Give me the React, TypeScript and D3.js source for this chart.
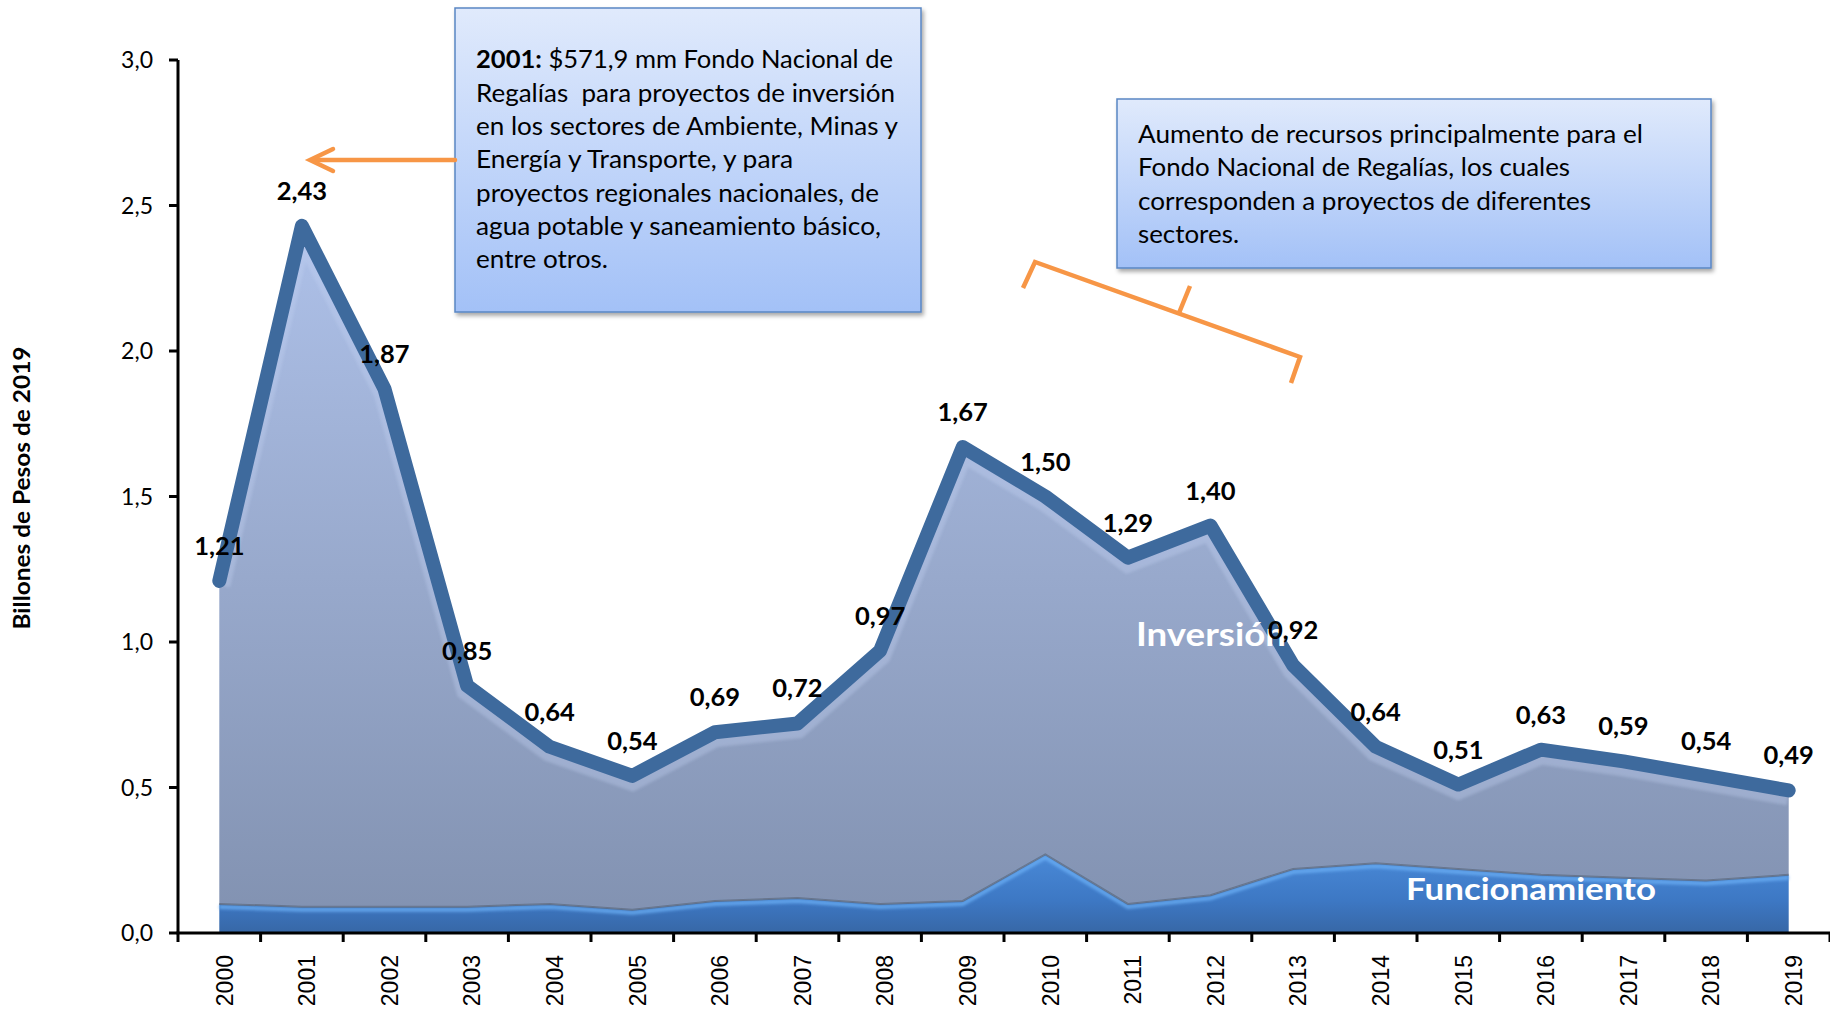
import React, { useEffect } from 'react';
import * as d3 from 'd3';

// Presupuesto 2000-2019, billones de pesos de 2019
const years = ['2000', '2001', '2002', '2003', '2004', '2005', '2006', '2007', '2008', '2009',
  '2010', '2011', '2012', '2013', '2014', '2015', '2016', '2017', '2018', '2019'];
const totalValues = [1.21, 2.43, 1.87, 0.85, 0.64, 0.54, 0.69, 0.72, 0.97, 1.67,
  1.50, 1.29, 1.40, 0.92, 0.64, 0.51, 0.63, 0.59, 0.54, 0.49];
const funcionamientoValues = [0.10, 0.09, 0.09, 0.09, 0.10, 0.08, 0.11, 0.12, 0.10, 0.11,
  0.27, 0.10, 0.13, 0.22, 0.24, 0.22, 0.20, 0.19, 0.18, 0.20];
const yTicks = [0, 0.5, 1.0, 1.5, 2.0, 2.5, 3.0];

const note2001 = [
  { bold: '2001:', text: ' $571,9 mm Fondo Nacional de', w: 417 },
  { bold: '', text: 'Regalías  para proyectos de inversión', w: 419 },
  { bold: '', text: 'en los sectores de Ambiente, Minas y', w: 422 },
  { bold: '', text: 'Energía y Transporte, y para', w: 317 },
  { bold: '', text: 'proyectos regionales nacionales, de', w: 403 },
  { bold: '', text: 'agua potable y saneamiento básico,', w: 405 },
  { bold: '', text: 'entre otros.', w: 132 },
];
const noteFNR = [
  { text: 'Aumento de recursos principalmente para el', w: 505 },
  { text: 'Fondo Nacional de Regalías, los cuales', w: 432 },
  { text: 'corresponden a proyectos de diferentes', w: 453 },
  { text: 'sectores.', w: 101 },
];

const W = 1830;
const H = 1009;
const FONT = 'Lato, "Open Sans", sans-serif';
const ORANGE = '#f79646';

export default function App() {
  useEffect(() => {
    document.body.style.margin = '0';
  }, []);

  const x = d3.scaleBand<string>().domain(years).range([178, 1830]).padding(0);
  const cx = (yr: string) => (x(yr) as number) + x.bandwidth() / 2;
  const y = d3.scaleLinear().domain([0, 3]).range([933, 60]);

  const rows = years.map((yr, i) => ({ yr, total: totalValues[i], func: funcionamientoValues[i] }));

  const inversionArea = d3.area<typeof rows[0]>()
    .x(d => cx(d.yr)).y0(d => y(d.func)).y1(d => y(d.total));
  const funcArea = d3.area<typeof rows[0]>()
    .x(d => cx(d.yr)).y0(y(0)).y1(d => y(d.func));
  const totalLine = d3.line<typeof rows[0]>().x(d => cx(d.yr)).y(d => y(d.total));
  const funcLine = d3.line<typeof rows[0]>().x(d => cx(d.yr)).y(d => y(d.func));

  const fmt2 = (v: number) => v.toFixed(2).replace('.', ',');
  const fmt1 = (v: number) => v.toFixed(1).replace('.', ',');

  const xTickPos = d3.range(years.length + 1).map(k => 178 + k * x.bandwidth());

  return (
    <svg width={W} height={H} style={{ display: 'block', background: '#fff' }}>
      <defs>
        <linearGradient id="invGrad" gradientUnits="userSpaceOnUse" x1="0" y1={y(2.45)} x2="0" y2={y(0)}>
          <stop offset="0" stopColor="#aec1e9" />
          <stop offset="0.5" stopColor="#98a9cc" />
          <stop offset="1" stopColor="#8191b0" />
        </linearGradient>
        <linearGradient id="funcGrad" gradientUnits="userSpaceOnUse" x1="0" y1={y(0.28)} x2="0" y2={y(0)}>
          <stop offset="0" stopColor="#4a8ad8" />
          <stop offset="0.6" stopColor="#3d78c4" />
          <stop offset="1" stopColor="#3767a6" />
        </linearGradient>
        <linearGradient id="boxGrad" x1="0" y1="0" x2="0" y2="1">
          <stop offset="0" stopColor="#e0eafc" />
          <stop offset="1" stopColor="#a3c1f7" />
        </linearGradient>
        <filter id="boxShadow" x="-5%" y="-5%" width="115%" height="120%">
          <feDropShadow dx="2" dy="3" stdDeviation="2" floodColor="#000" floodOpacity="0.35" />
        </filter>
        <filter id="soft" x="-5%" y="-20%" width="110%" height="140%">
          <feGaussianBlur stdDeviation="1.5" />
        </filter>
        <clipPath id="invClip">
          <path d={inversionArea(rows) || ''} />
        </clipPath>
      </defs>

      {/* stacked areas */}
      <path d={inversionArea(rows) || ''} fill="url(#invGrad)" />
      <g clipPath="url(#invClip)">
        <path d={totalLine(rows) || ''} fill="none" stroke="#c3d2f2" strokeWidth={22}
          opacity={0.35} filter="url(#soft)" transform="translate(0,4)" />
      </g>
      <path d={funcArea(rows) || ''} fill="url(#funcGrad)" />
      <path d={funcLine(rows) || ''} fill="none" stroke="#6cb0f6" strokeWidth={4}
        transform="translate(0,3)" opacity={0.8} filter="url(#soft)" />
      <path d={funcLine(rows) || ''} fill="none" stroke="#5f6776" strokeWidth={2} opacity={0.7} />

      {/* total line */}
      <path d={totalLine(rows) || ''} fill="none" stroke="#3e6a9d" strokeWidth={14}
        strokeLinejoin="round" strokeLinecap="round" />

      {/* axes */}
      <line x1={178} x2={178} y1={y(3)} y2={y(0)} stroke="#000" strokeWidth={3} />
      {yTicks.map(t => (
        <g key={t}>
          <line x1={169} x2={178} y1={y(t)} y2={y(t)} stroke="#000" strokeWidth={3} />
          <text x={153} y={y(t)} dy="0.36em" textAnchor="end" fontFamily={FONT}
            fontSize={23} fill="#000">{fmt1(t)}</text>
        </g>
      ))}
      <line x1={176.5} x2={W} y1={y(0)} y2={y(0)} stroke="#000" strokeWidth={3} />
      {xTickPos.map((p, k) => (
        <line key={k} x1={p} x2={p} y1={y(0)} y2={y(0) + 9} stroke="#000" strokeWidth={3} />
      ))}
      {years.map(yr => (
        <text key={yr} transform={`translate(${cx(yr) + 5},955) rotate(-90)`} textAnchor="end"
          dy="0.36em" fontFamily='"Liberation Sans", Arial, sans-serif' fontSize={23} fill="#000">{yr}</text>
      ))}
      <text transform="translate(22,488) rotate(-90)" textAnchor="middle" dy="0.36em"
        fontFamily={FONT} fontWeight={700} fontSize={22} textLength={283}
        lengthAdjust="spacingAndGlyphs" fill="#000">Billones de Pesos de 2019</text>

      {/* series names */}
      <text x={1136} y={646} fontFamily={FONT} fontWeight={700} fontSize={32} fill="#fff"
        textLength={150} lengthAdjust="spacingAndGlyphs">Inversión</text>
      <text x={1406} y={900} fontFamily={FONT} fontWeight={700} fontSize={31} fill="#fff"
        textLength={250} lengthAdjust="spacingAndGlyphs">Funcionamiento</text>

      {/* value labels */}
      {rows.map(d => (
        <text key={d.yr} x={cx(d.yr)} y={y(d.total) - 26} textAnchor="middle" fontFamily={FONT}
          fontWeight={700} fontSize={25.5} fill="#000">{fmt2(d.total)}</text>
      ))}

      {/* 2001 note */}
      <rect x={455} y={8} width={466} height={304} fill="url(#boxGrad)" stroke="#5a86c3"
        strokeWidth={1.5} filter="url(#boxShadow)" />
      {note2001.map((l, i) => (
        <text key={i} x={476} y={68.3 + i * 33.33} fontFamily={FONT} fontSize={25} fill="#000"
          textLength={l.w} lengthAdjust="spacingAndGlyphs" style={{ whiteSpace: 'pre' }}>
          {l.bold ? <tspan fontWeight={700}>{l.bold}</tspan> : null}{l.text}
        </text>
      ))}
      <g stroke={ORANGE} strokeWidth={4.5} fill="none" strokeLinecap="round">
        <line x1={455} y1={160} x2={312} y2={160} />
        <polyline points="333,149 310,160 333,171" strokeLinejoin="miter" />
      </g>

      {/* FNR note */}
      <rect x={1117} y={99} width={594} height={169} fill="url(#boxGrad)" stroke="#5a86c3"
        strokeWidth={1.5} filter="url(#boxShadow)" />
      {noteFNR.map((l, i) => (
        <text key={i} x={1138} y={143 + i * 33.4} fontFamily={FONT} fontSize={25} fill="#000"
          textLength={l.w} lengthAdjust="spacingAndGlyphs">{l.text}</text>
      ))}
      <g stroke={ORANGE} strokeWidth={4.5} fill="none" strokeLinejoin="miter">
        <polyline points="1023,288 1035,262 1300,357 1291,383" />
        <line x1={1179} y1={313} x2={1190} y2={286} />
      </g>
    </svg>
  );
}
